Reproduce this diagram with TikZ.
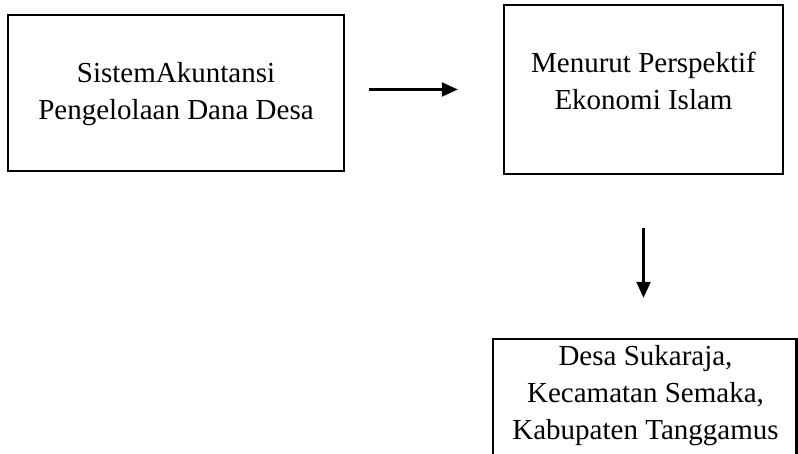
\documentclass[tikz,border=0pt]{standalone}
\usepackage{fontspec}
\setmainfont{Liberation Serif}
\usepackage{tikz}
\usetikzlibrary{arrows.meta}

\begin{document}
\begin{tikzpicture}[x=1pt, y=-1pt,
    box/.style={draw, line width=2.4pt, inner sep=0pt},
    txt/.style={align=center, inner sep=0pt, font=\fontsize{29}{37}\selectfont},
    arr/.style={line width=2.2pt, -{Triangle[length=16pt, width=14pt]}}]
    \useasboundingbox (0,0) rectangle (798,453);
    \clip (0,0) rectangle (798,453);

    \node[box, minimum width=336pt, minimum height=156pt] (sistem) at (176,93) {};
    \node[box, minimum width=279pt, minimum height=169pt] (menurut) at (643.5,89.5) {};
    \node[box, minimum width=303.5pt, minimum height=141pt] (desa) at (644.75,409.5) {};

    \node[txt] (sistemtxt) at (176,94) {SistemAkuntansi\\Pengelolaan Dana Desa};
    \node[txt] (menuruttxt) at (643.5,81) {Menurut Perspektif\\Ekonomi Islam};
    \node[txt] (desatxt) at (645.5,396) {Desa Sukaraja,\\Kecamatan Semaka,\\Kabupaten Tanggamus};

    \draw[arr, shorten <=24pt, shorten >=45pt] (sistem.east |- menurut.west) -- (menurut.west);
    \draw[arr, shorten <=53pt, shorten >=40pt] (menurut.south) -- (menurut.south |- desa.north);
\end{tikzpicture}
\end{document}
